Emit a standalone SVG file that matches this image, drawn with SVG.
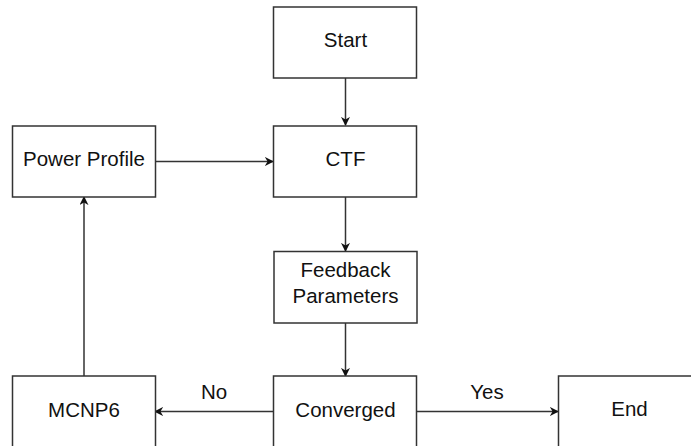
<svg xmlns="http://www.w3.org/2000/svg" width="691" height="446" viewBox="0 0 691 446">
<style>
.box{fill:#ffffff;stroke:#333333;stroke-width:1.5}
.lbl{font-family:"Liberation Sans",Arial,sans-serif;font-size:20.5px;fill:#111111;text-anchor:middle}
.edge{fill:none;stroke:#333333;stroke-width:1.5}
</style>
<defs>
<marker id="arr" viewBox="0 0 10 10" refX="9" refY="5" markerWidth="9" markerHeight="9" markerUnits="userSpaceOnUse" orient="auto">
<path d="M0,0 L10,5 L0,10 L3,5 Z" fill="#111111"/>
</marker>
</defs>
<rect width="691" height="446" fill="#ffffff"/>
<g id="connectors">
<line class="edge" x1="345.5" y1="78" x2="345.5" y2="125" marker-end="url(#arr)"/>
<line class="edge" x1="155" y1="161.5" x2="273" y2="161.5" marker-end="url(#arr)"/>
<line class="edge" x1="345.5" y1="197" x2="345.5" y2="251" marker-end="url(#arr)"/>
<line class="edge" x1="345.5" y1="323" x2="345.5" y2="376" marker-end="url(#arr)"/>
<line class="edge" x1="273" y1="411.5" x2="155" y2="411.5" marker-end="url(#arr)"/>
<line class="edge" x1="416.5" y1="411.5" x2="558" y2="411.5" marker-end="url(#arr)"/>
<line class="edge" x1="84" y1="376" x2="84" y2="197" marker-end="url(#arr)"/>
<text class="lbl" x="214" y="399">No</text>
<text class="lbl" x="487" y="399">Yes</text>
</g>
<g id="start"><rect class="box" x="273.5" y="7" width="143" height="71"/><text class="lbl" x="345.5" y="46.5">Start</text></g>
<g id="ctf"><rect class="box" x="273.5" y="126" width="143" height="71"/><text class="lbl" x="345.5" y="166">CTF</text></g>
<g id="power"><rect class="box" x="12.5" y="126" width="143" height="71"/><text class="lbl" x="84" y="166">Power Profile</text></g>
<g id="feedback"><rect class="box" x="274" y="251.5" width="143" height="71.5"/><text class="lbl" x="345.5" y="277">Feedback</text><text class="lbl" x="345.5" y="303">Parameters</text></g>
<g id="mcnp6"><rect class="box" x="12.5" y="376" width="143" height="72"/><text class="lbl" x="84" y="416.5">MCNP6</text></g>
<g id="converged"><rect class="box" x="273.5" y="376" width="143" height="72"/><text class="lbl" x="345.5" y="416.5">Converged</text></g>
<g id="end"><rect class="box" x="558.5" y="376" width="143" height="72"/><text class="lbl" x="629.5" y="416">End</text></g>
</svg>
